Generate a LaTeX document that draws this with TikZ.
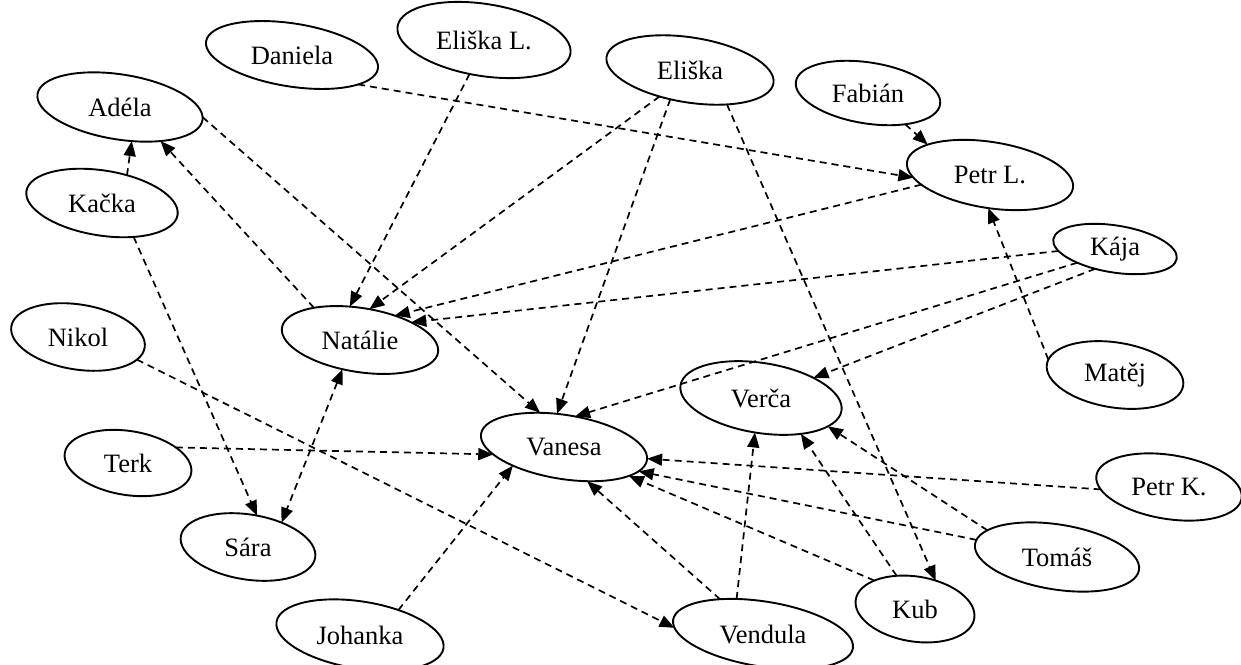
\documentclass[tikz,border=0pt]{standalone}
\usepackage{fontspec}
\usepackage{graphicx}
\setmainfont{Liberation Serif}
\usetikzlibrary{shapes.geometric,arrows.meta}
\newcommand{\pname}[1]{\rotatebox{9}{#1}}
\tikzset{
  person/.style={ellipse, draw, line width=1.9pt, rotate=-9, inner sep=0pt, outer sep=0pt,
    font=\fontsize{26.5}{30}\selectfont},
  rel/.style={line width=1.7pt, dash pattern=on 7pt off 5pt,
    -{Triangle[length=15pt,width=12pt]}},
  relboth/.style={line width=1.7pt, dash pattern=on 7pt off 5pt,
    {Triangle[length=15pt,width=12pt]}-{Triangle[length=15pt,width=12pt]}}
}
\begin{document}
\begin{tikzpicture}[x=1pt,y=-1pt]
\useasboundingbox (0,0) rectangle (1241,664);
\fill[white] (0,0) rectangle (1241,664);
% nodes
\node[person, minimum width=174pt, minimum height=63pt] (Daniela) at (292,55) {\pname{Daniela}};
\node[person, minimum width=175pt, minimum height=72pt] (ElishkaL) at (484,40) {\pname{Eliška L.}};
\node[person, minimum width=169pt, minimum height=65pt] (Eliska) at (690,70) {\pname{Eliška}};
\node[person, minimum width=146pt, minimum height=61pt] (Fabian) at (868,93) {\pname{Fabián}};
\node[person, minimum width=168pt, minimum height=66pt] (PetrL) at (990,175) {\pname{Petr L.}};
\node[person, minimum width=167pt, minimum height=65pt] (Adela) at (120,107) {\pname{Adéla}};
\node[person, minimum width=153pt, minimum height=65pt] (Kacka) at (102,203) {\pname{Kačka}};
\node[person, minimum width=135pt, minimum height=65pt] (Nikol) at (78,337) {\pname{Nikol}};
\node[person, minimum width=158pt, minimum height=64pt] (Natalie) at (360,340) {\pname{Natálie}};
\node[person, minimum width=128pt, minimum height=64pt] (Terk) at (128,463) {\pname{Terk}};
\node[person, minimum width=136pt, minimum height=65pt] (Sara) at (248,547) {\pname{Sára}};
\node[person, minimum width=169pt, minimum height=67pt] (Johanka) at (360,635) {\pname{Johanka}};
\node[person, minimum width=168pt, minimum height=64pt] (Vanesa) at (564,447) {\pname{Vanesa}};
\node[person, minimum width=163pt, minimum height=70pt] (Verca) at (761,398) {\pname{Verča}};
\node[person, minimum width=182pt, minimum height=65pt] (Vendula) at (763,634) {\pname{Vendula}};
\node[person, minimum width=120pt, minimum height=65pt] (Kub) at (915,609) {\pname{Kub}};
\node[person, minimum width=166pt, minimum height=65pt] (Tomas) at (1057,557) {\pname{Tomáš}};
\node[person, minimum width=147pt, minimum height=64pt] (PetrK) at (1169,487) {\pname{Petr K.}};
\node[person, minimum width=138pt, minimum height=65pt] (Matej) at (1115,375) {\pname{Matěj}};
\node[person, minimum width=125pt, minimum height=47pt] (Kaja) at (1115,249) {\pname{Kája}};
% edges
\draw[rel] (Daniela.345) -- (PetrL.191);
\draw[rel] (Fabian.329) -- (PetrL.163);
\draw[rel] (Matej.176) -- (PetrL.276);
\draw[rel] (PetrL.197) -- (Natalie.44);
\draw[rel] (ElishkaL.256) -- (Natalie.116);
\draw[rel] (Eliska.230) -- (Natalie.82);
\draw[rel] (Kaja.191) -- (Natalie.28);
\draw[rel] (Natalie.154) -- (Adela.329);
\draw[rel] (Kacka.57) -- (Adela.298);
\draw[rel] (Kacka.322) -- (Sara.83);
\draw[relboth] (Natalie.248) -- (Sara.45);
\draw[rel] (Nikol.348) -- (Vendula.185);
\draw[rel] (Terk.27) -- (Vanesa.195);
\draw[rel] (Johanka.42) -- (Vanesa.209);
\draw[rel] (Adela.2) -- (Vanesa.134);
\draw[rel] (Eliska.245) -- (Vanesa.111);
\draw[rel] (Kaja.209) -- (Vanesa.79);
\draw[rel] (Kaja.234) -- (Verca.30);
\draw[rel] (Eliska.326) -- (Kub.63);
\draw[rel] (Vendula.150) -- (Vanesa.313);
\draw[rel] (Vendula.136) -- (Verca.269);
\draw[rel] (Kub.154) -- (Vanesa.345);
\draw[rel] (Tomas.177) -- (Vanesa.351);
\draw[rel] (PetrK.191) -- (Vanesa.1);
\draw[rel] (Kub.128) -- (Verca.327);
\draw[rel] (Tomas.168) -- (Verca.346);
\end{tikzpicture}
\end{document}
